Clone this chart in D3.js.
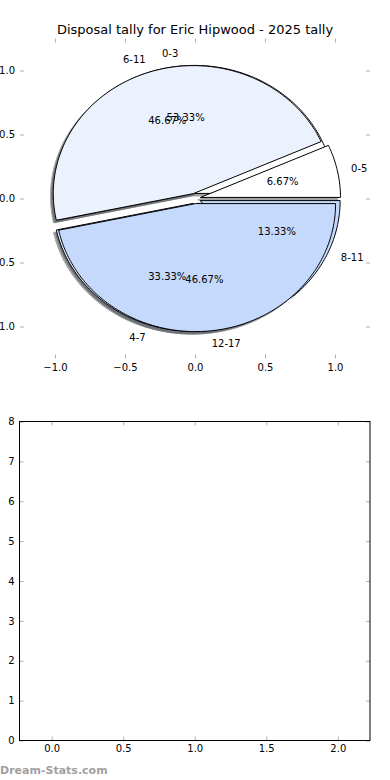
<!DOCTYPE html>
<html><head><meta charset="utf-8">
<script src="https://cdn.jsdelivr.net/npm/d3@7"></script>
<style>body{margin:0;background:#fff}svg{display:block}text{font-family:"DejaVu Sans",sans-serif;fill:#000}</style>
</head><body>
<script>
const title = "Disposal tally for Eric Hipwood - 2025 tally";
const labelsB = ["0-3", "4-7", "8-11"];
const valuesB = [8, 5, 2];
const labelsA = ["0-5", "6-11", "12-17"];
const valuesA = [1, 7, 7];
const sliceColors = ["#ffffff", "#ebf2fe", "#c5d9fd"];
const explode = [0.04, 0.04, 0.04];
const pieTicks = [-1, -0.5, 0, 0.5, 1];
const barXTicks = [0, 0.5, 1, 1.5, 2];
const barYTicks = [0, 1, 2, 3, 4, 5, 6, 7, 8];
const watermark = "Dream-Stats.com";

const W = 390, H = 780;
const svg = d3.select("body").append("svg").attr("width", W).attr("height", H);

// ---------- upper (pie) axes ----------
const P = {l: 20, r: 370, t: 38.5, b: 358.5};
const px = d3.scaleLinear().domain([-1.25, 1.25]).range([P.l, P.r]);
const py = d3.scaleLinear().domain([-1.25, 1.25]).range([P.b, P.t]);

svg.append("text").attr("x", (P.l + P.r) / 2).attr("y", 34).attr("text-anchor", "middle")
  .attr("font-size", 13).text(title);

function layout(values, labels) {
  const total = d3.sum(values);
  return d3.pie().sort(null).startAngle(0).endAngle(2 * Math.PI)(values).map((a, i) => {
    const m = (a.startAngle + a.endAngle) / 2, e = explode[i];
    return {...a, label: labels[i], color: sliceColors[i], mid: m,
      cx: e * Math.cos(m), cy: e * Math.sin(m), pct: a.value / total * 100};
  });
}
function wedgePath(d, ox, oy) {
  const n = Math.max(2, Math.ceil((d.endAngle - d.startAngle) / (Math.PI / 180)));
  const pts = [[d.cx + ox, d.cy + oy]];
  for (let k = 0; k <= n; k++) {
    const t = d.startAngle + (d.endAngle - d.startAngle) * k / n;
    pts.push([d.cx + ox + Math.cos(t), d.cy + oy + Math.sin(t)]);
  }
  return d3.line().x(p => px(p[0])).y(p => py(p[1]))(pts) + "Z";
}
function shade(c) { const r = d3.rgb(c); return d3.rgb(r.r * 0.3, r.g * 0.3, r.b * 0.3).toString(); }

const pies = [layout(valuesB, labelsB), layout(valuesA, labelsA)];
const gShadow = svg.append("g"), gWedge = svg.append("g"), gText = svg.append("g");
pies.forEach(arcs => {
  gShadow.selectAll(null).data(arcs).enter().append("path")
    .attr("d", d => wedgePath(d, -0.02, -0.02))
    .attr("fill", d => shade(d.color)).attr("stroke", d => shade(d.color))
    .attr("opacity", 0.5).attr("stroke-width", 1);
});
pies.forEach(arcs => {
  gWedge.selectAll(null).data(arcs).enter().append("path")
    .attr("d", d => wedgePath(d, 0, 0))
    .attr("fill", d => d.color).attr("stroke", "#000").attr("stroke-width", 1)
    .attr("stroke-linejoin", "miter");
});
pies.forEach(arcs => {
  arcs.forEach(d => {
    const lx = d.cx + 1.1 * Math.cos(d.mid), ly = d.cy + 1.1 * Math.sin(d.mid);
    gText.append("text").attr("x", px(lx)).attr("y", py(ly))
      .attr("text-anchor", lx > 0 ? "start" : "end").attr("dominant-baseline", "central")
      .attr("font-size", 10).text(d.label);
    const tx = d.cx + 0.6 * Math.cos(d.mid), ty = d.cy + 0.6 * Math.sin(d.mid);
    gText.append("text").attr("x", px(tx)).attr("y", py(ty))
      .attr("text-anchor", "middle").attr("dominant-baseline", "central")
      .attr("font-size", 10).text(d.pct.toFixed(2) + "%");
  });
});

function styleAxis(g, tickColor) {
  g.select(".domain").remove();
  g.selectAll(".tick line").attr("stroke", tickColor).attr("stroke-width", 1);
  g.selectAll(".tick text").attr("font-size", 10).attr("font-family", "DejaVu Sans").attr("fill", "#000");
}
const fmt1 = d => d3.format(".1f")(d).replace("-", "\u2212");
const tc = "#b0b0b0";
styleAxis(svg.append("g").attr("transform", `translate(0,${P.b})`)
  .call(d3.axisBottom(px).tickValues(pieTicks).tickFormat(fmt1).tickSize(-4).tickPadding(5)), tc);
styleAxis(svg.append("g").attr("transform", `translate(0,${P.t})`)
  .call(d3.axisTop(px).tickValues(pieTicks).tickFormat("").tickSize(-4)), tc);
styleAxis(svg.append("g").attr("transform", `translate(${P.l},0)`)
  .call(d3.axisLeft(py).tickValues(pieTicks).tickFormat(fmt1).tickSize(-4).tickPadding(5)), tc);
styleAxis(svg.append("g").attr("transform", `translate(${P.r},0)`)
  .call(d3.axisRight(py).tickValues(pieTicks).tickFormat("").tickSize(-4)), tc);

// ---------- lower (empty) axes ----------
const B = {l: 19.5, r: 370, t: 421.5, b: 740.5};
const bx = d3.scaleLinear().domain([-0.225, 2.225]).range([B.l, B.r]);
const by = d3.scaleLinear().domain([0, 8]).range([B.b, B.t]);
styleAxis(svg.append("g").attr("transform", `translate(0,${B.b})`)
  .call(d3.axisBottom(bx).tickValues(barXTicks).tickFormat(d3.format(".1f")).tickSize(-4).tickPadding(4)), tc);
styleAxis(svg.append("g").attr("transform", `translate(0,${B.t})`)
  .call(d3.axisTop(bx).tickValues(barXTicks).tickFormat("").tickSize(-4)), tc);
styleAxis(svg.append("g").attr("transform", `translate(${B.l},0)`)
  .call(d3.axisLeft(by).tickValues(barYTicks).tickFormat(d3.format("d")).tickSize(-4).tickPadding(5)), tc);
styleAxis(svg.append("g").attr("transform", `translate(${B.r},0)`)
  .call(d3.axisRight(by).tickValues(barYTicks).tickFormat("").tickSize(-4)), tc);
svg.append("rect").attr("x", B.l).attr("y", B.t).attr("width", B.r - B.l).attr("height", B.b - B.t)
  .attr("fill", "none").attr("stroke", "#000").attr("stroke-width", 1);

svg.append("text").attr("x", 0).attr("y", 774).attr("font-size", 11)
  .attr("font-family", "Open Sans, sans-serif").attr("font-weight", 600)
  .style("fill", "#a0a0a0").text(watermark);
</script>
</body></html>
